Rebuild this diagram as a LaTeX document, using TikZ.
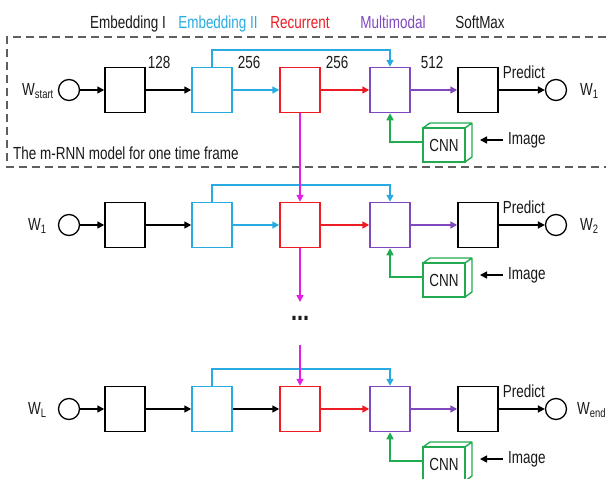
\documentclass[tikz,border=0pt]{standalone}
\usepackage{fontspec}
\setmainfont{Liberation Sans}[FakeStretch=0.77]
\usetikzlibrary{arrows.meta,calc}

\definecolor{embcyan}{RGB}{41,171,226}
\definecolor{recred}{RGB}{237,28,36}
\definecolor{mmpurple}{RGB}{128,72,190}
\definecolor{recmag}{RGB}{228,30,228}
\definecolor{cnngreen}{RGB}{34,170,80}
\definecolor{framegray}{RGB}{95,95,95}
\definecolor{ink}{RGB}{25,25,25}

\begin{document}
\begin{tikzpicture}[x=1pt,y=-1pt,
  font=\fontsize{17.5}{20}\selectfont, text=ink,
  layer/.style={draw, line width=1.5pt, minimum width=40pt, minimum height=45pt, inner sep=0pt},
  word/.style={draw, circle, line width=1.3pt, minimum size=21pt, inner sep=0pt},
  flow/.style={line width=1.6pt, -{Triangle[length=7pt,width=7pt]}},
  plain/.style={inner sep=0pt},
  cnnface/.style={draw=cnngreen, line width=1.4pt, minimum width=42pt, minimum height=34pt,
    inner sep=0pt, outer sep=0pt},
  frame/.style={draw=framegray, line width=1.6pt, dash pattern=on 8pt off 5pt}
]
\useasboundingbox (0,0) rectangle (606,479);

% column headings
\node[plain, anchor=base] (hemb) at (128,28) {Embedding I};
\node[plain, anchor=base, text=embcyan] (hebt) at (218,28) {Embedding II};
\node[plain, anchor=base, text=recred] (hrec) at (300,28) {Recurrent};
\node[plain, anchor=base, text=mmpurple] (hmm) at (393,28) {Multimodal};
\node[plain, anchor=base] (hsm) at (480,28) {SoftMax};

% frame around the first time step
\draw[frame] (606,37) -- (7,37) -- (7,167) -- (606,167);
\node[plain, anchor=west] (frametitle) at (13,153) {The m-RNN model for one time frame};

% three unrolled time steps
\foreach \r/\yy/\lx/\rx/\lin/\lout/\hc in {
    a/90/22/580/{W\textsubscript{start}}/{W\textsubscript{1}}/embcyan,
    b/225/28/580/{W\textsubscript{1}}/{W\textsubscript{2}}/embcyan,
    c/409/28/577/{W\textsubscript{L}}/{W\textsubscript{end}}/black}{
  \node[word] (in\r) at (69,\yy) {};
  \node[layer] (emb\r) at (125,\yy) {};
  \node[layer, draw=embcyan] (ebt\r) at (212,\yy) {};
  \node[layer, draw=recred] (rec\r) at (300,\yy) {};
  \node[layer, draw=mmpurple] (mm\r) at (390,\yy) {};
  \node[layer] (sm\r) at (478,\yy) {};
  \node[word] (out\r) at (556,\yy) {};
  \node[plain, anchor=west] (lin\r) at (\lx,\yy+1) {\lin};
  \node[plain, anchor=west] (lout\r) at (\rx,\yy+1) {\lout};
  \node[plain, anchor=base west] (pred\r) at ([xshift=4pt,yshift=12pt]sm\r.east) {Predict};

  \draw[flow] (in\r) -- (emb\r);
  \draw[flow] (emb\r) -- (ebt\r);
  \draw[flow, \hc] (ebt\r) -- (rec\r);
  \draw[flow, recred] (rec\r) -- (mm\r);
  \draw[flow, mmpurple] (mm\r) -- (sm\r);
  \draw[flow] (sm\r) -- (out\r);
  \draw[flow, embcyan] (ebt\r.north) -- ++(0,-17) -| (mm\r.north);

  % CNN drawn as a box with depth
  \node[cnnface] (cnn\r) at (444,\yy+55) {CNN};
  \draw[cnngreen, line width=1.4pt, line join=round]
    (cnn\r.north west) -- ++(7,-5) -- ++(42,0) -- ++(0,34) -- ++(-7,5)
    (cnn\r.north east) -- ++(7,-5);
  \coordinate (cnnback\r) at ([xshift=7pt]cnn\r.east);
  \draw[flow, cnngreen] ([yshift=3pt]cnn\r.west) -| (mm\r.south);
  \node[plain, anchor=west] (img\r) at (508,\yy+50) {Image};
  \draw[flow, shorten <=5pt, shorten >=8pt] (img\r.west) -- (img\r.west -| cnnback\r);
}

% layer sizes
\node[plain, anchor=base west] (d128) at ([xshift=2pt,yshift=-2pt]emba.north east) {128};
\node[plain, anchor=base west] (d256a) at ([xshift=5pt,yshift=-2pt]ebta.north east) {256};
\node[plain, anchor=base west] (d256b) at ([xshift=5pt,yshift=-2pt]reca.north east) {256};
\node[plain, anchor=base west] (d512) at ([xshift=10pt,yshift=-2pt]mma.north east) {512};

% recurrent connections between time steps
\coordinate (recoutb) at (300,302);
\coordinate (recinc) at (300,345);
\draw[flow, recmag] (reca.south) -- (recb.north);
\draw[flow, recmag] (recb.south) -- (recoutb);
\draw[flow, recmag] (recinc) -- (recc.north);
\node[plain, font=\fontsize{28}{30}\selectfont\bfseries] (gap) at (300,318) {...};
\end{tikzpicture}
\end{document}
